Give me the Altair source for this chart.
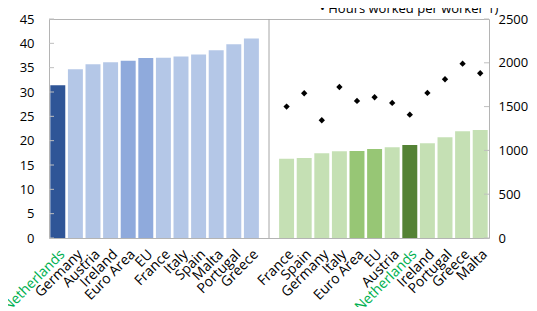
import altair as alt
import pandas as pd

# Left panel: hours (left axis)
left_countries = ["Netherlands", "Germany", "Austria", "Ireland", "Euro Area", "EU",
                  "France", "Italy", "Spain", "Malta", "Portugal", "Greece"]
left_values = [31.4, 34.7, 35.7, 36.1, 36.4, 37.0, 37.05, 37.3, 37.7, 38.6, 39.8, 41.0]

# Right panel: bars and diamonds (right axis)
right_countries = ["France", "Spain", "Germany", "Italy", "Euro Area", "EU",
                   "Austria", "Netherlands", "Ireland", "Portugal", "Greece", "Malta"]
right_bar_values = [905, 913, 967, 990, 993, 1016, 1036, 1062, 1081, 1150, 1218, 1233]
hours_per_worker = [1500, 1652, 1344, 1724, 1565, 1607, 1542, 1408, 1656, 1812, 1990, 1881]

left_ticks = [0, 5, 10, 15, 20, 25, 30, 35, 40, 45]
right_ticks = [0, 500, 1000, 1500, 2000, 2500]
legend_text = "• Hours worked per worker 1)"

W, H = 440, 219
FONT = "Open Sans"

def left_color(c):
    if c == "Netherlands":
        return "#2f5597"
    if c in ("Euro Area", "EU"):
        return "#8faadc"
    return "#b4c7e7"

def right_color(c):
    if c == "Netherlands":
        return "#548235"
    if c in ("Euro Area", "EU"):
        return "#97c675"
    return "#c5e0b4"

left_keys = [f"L{i:02d}|{c}" for i, c in enumerate(left_countries)]
right_keys = [f"R{i:02d}|{c}" for i, c in enumerate(right_countries)]
gap_key = "M00| "
domain = left_keys + [gap_key] + right_keys

df_left = pd.DataFrame({"key": left_keys, "v": left_values,
                        "col": [left_color(c) for c in left_countries]})
df_right = pd.DataFrame({"key": right_keys, "v": right_bar_values,
                         "col": [right_color(c) for c in right_countries]})
df_dia = pd.DataFrame({"key": right_keys, "v": hours_per_worker})
df_gap = pd.DataFrame({"key": [gap_key]})
df_lt = pd.DataFrame({"v": left_ticks})
df_rt = pd.DataFrame({"v": right_ticks})

x_enc = alt.X("key:N", scale=alt.Scale(domain=domain, paddingInner=0.15, paddingOuter=0.075),
              axis=alt.Axis(title=None, labelExpr="split(datum.value,'|')[1]",
                            labelAngle=315, labelAlign="right", labelBaseline="top",
                            labelPadding=9, ticks=False, domain=False,
                            labelFont=FONT, labelFontSize=14,
                            labelColor=alt.ExprRef(expr="indexof(datum.value,'Netherlands')>=0 ? '#00b050' : '#000000'")))

yl = alt.Y("v:Q", scale=alt.Scale(domain=[0, 45], nice=False, zero=True),
           axis=alt.Axis(title=None, orient="left", values=left_ticks, grid=False,
                         ticks=False, tickSize=0, domain=False, labelPadding=15,
                         labelFont=FONT, labelFontSize=13, labelColor="#000000"))
yr = alt.Y("v:Q", scale=alt.Scale(domain=[0, 2500], nice=False, zero=True),
           axis=alt.Axis(title=None, orient="right", values=right_ticks, grid=False, format="d",
                         ticks=False, tickSize=0, domain=False, labelPadding=9,
                         labelFont=FONT, labelFontSize=13, labelColor="#000000"))

left_bars = alt.Chart(df_left).mark_bar().encode(x=x_enc, y=yl, color=alt.Color("col:N", scale=None))
left_tk = alt.Chart(df_lt).mark_rule(color="#bfbfbf", strokeWidth=1).encode(
    x=alt.value(0), x2=alt.value(5), y=yl)
left_layer = alt.layer(left_bars, left_tk)

right_bars = alt.Chart(df_right).mark_bar().encode(x=x_enc, y=yr, color=alt.Color("col:N", scale=None))
dia = alt.Chart(df_dia).mark_point(shape="diamond", filled=True, color="#000000", size=40, opacity=1).encode(x=x_enc, y=yr)
right_tk = alt.Chart(df_rt).mark_rule(color="#bfbfbf", strokeWidth=1).encode(
    x=alt.value(W - 5), x2=alt.value(W), y=yr)
sep = alt.Chart(df_gap).mark_rule(color="#a6a6a6", strokeWidth=1).encode(
    x=x_enc, y=alt.value(0), y2=alt.value(H))
legend = alt.Chart(pd.DataFrame({"t": [legend_text]})).mark_text(
    align="left", baseline="alphabetic", font=FONT, fontSize=13, color="#000000").encode(
    x=alt.value(271), y=alt.value(-6), text="t:N")
right_layer = alt.layer(right_bars, dia, right_tk, sep, legend)

chart = alt.layer(left_layer, right_layer).resolve_scale(y="independent").properties(
    width=W, height=H,
    autosize=alt.AutoSizeParams(type="none"),
    padding={"left": 41, "top": 11, "right": 40, "bottom": 69},
).configure_view(stroke="#b4b4b4", strokeWidth=1)

chart.save("out.html", embed_options={"renderer": "svg", "actions": False})
